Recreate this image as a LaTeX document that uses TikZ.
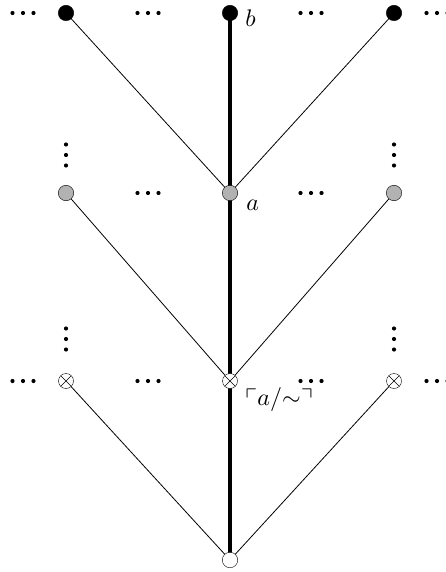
\documentclass[tikz,border=0pt]{standalone}
\usepackage{amssymb}
\begin{document}
\begin{tikzpicture}[x=1pt,y=-1pt,
  blk/.style={circle,draw,fill=black,minimum size=15.5pt,inner sep=0pt},
  gry/.style={circle,draw,fill=black!30,minimum size=15.5pt,inner sep=0pt},
  otm/.style={circle,draw,fill=white,minimum size=15pt,inner sep=0pt,path picture={
    \draw ([xshift=-5.3pt,yshift=-5.3pt]path picture bounding box.center) -- ([xshift=5.3pt,yshift=5.3pt]path picture bounding box.center);
    \draw ([xshift=-5.3pt,yshift=5.3pt]path picture bounding box.center) -- ([xshift=5.3pt,yshift=-5.3pt]path picture bounding box.center);}},
  wht/.style={circle,draw,fill=white,minimum size=15.5pt,inner sep=0pt},
  thin/.style={line width=0.8pt},
  thick line/.style={line width=3.5pt},
  lbl/.style={scale=2.4,inner sep=0pt}]
\useasboundingbox (0,0) rectangle (446,572);
% hdots and vdots
\newcommand{\hdts}[2]{\foreach \d in {-10.5,0,10.5}{\fill (#1+\d,#2) circle (2.1);}}
\newcommand{\vdts}[2]{\foreach \d in {-10.5,0,10.5}{\fill (#1,#2+\d) circle (2.1);}}
\hdts{23}{13}\hdts{148}{13}\hdts{311}{13}\hdts{437}{13}
\hdts{148}{193}\hdts{311}{193}
\vdts{66}{155}\vdts{394}{155}
\hdts{23}{381}\hdts{148}{381}\hdts{311}{381}\hdts{437}{381}
\vdts{66}{339}\vdts{394}{339}
% nodes
\coordinate (t1) at (66,13); \coordinate (t2) at (230,13); \coordinate (t3) at (394,13);
\coordinate (m1) at (66,193); \coordinate (m2) at (230,193); \coordinate (m3) at (394,193);
\coordinate (l1) at (66,381); \coordinate (l2) at (230,381); \coordinate (l3) at (394,381);
\coordinate (r) at (230,560);
\draw[thin] (t1) -- (m2); \draw[thin] (t3) -- (m2);
\draw[thin] (m1) -- (l2); \draw[thin] (m3) -- (l2);
\draw[thin] (l1) -- (r); \draw[thin] (l3) -- (r);
\draw[thick line] (t2) -- (r);
\node[blk] (T1) at (t1) {}; \node[blk] (T2) at (t2) {}; \node[blk] (T3) at (t3) {};
\node[gry] (M1) at (m1) {}; \node[gry] (M2) at (m2) {}; \node[gry] (M3) at (m3) {};
\node[otm] (L1) at (l1) {}; \node[otm] (L2) at (l2) {}; \node[otm] (L3) at (l3) {};
\node[wht] (R) at (r) {};
\node[lbl,anchor=west] (lb) at (245,18) {$b$};
\node[lbl,anchor=west] (la) at (246,205) {$a$};
\node[lbl,anchor=west] (lc) at (245,399) {$\ulcorner a/{\sim}\urcorner$};
\end{tikzpicture}
\end{document}
